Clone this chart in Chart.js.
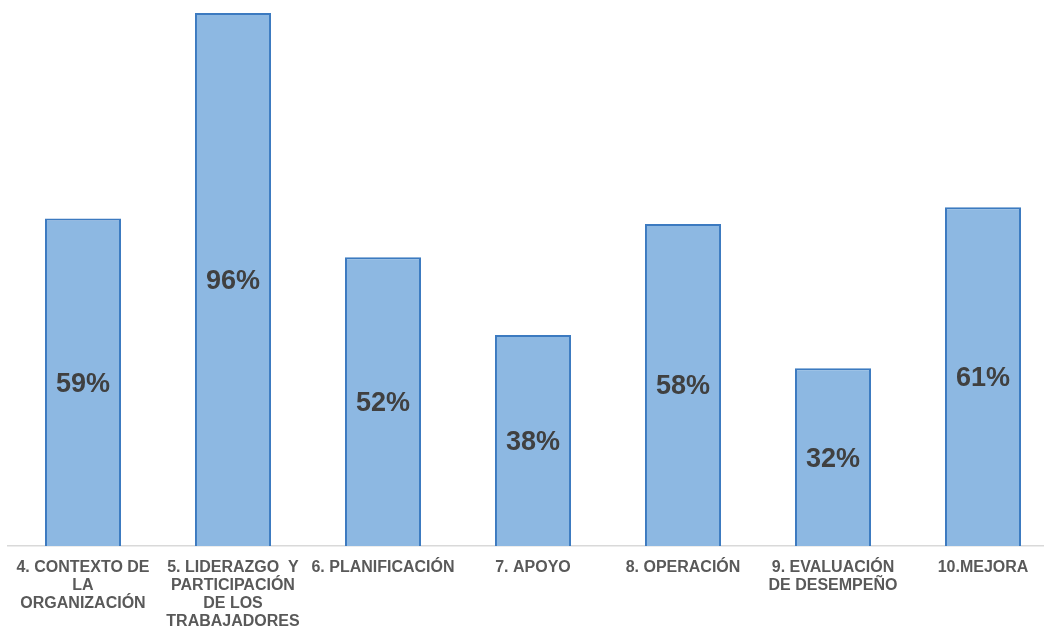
<!DOCTYPE HTML>
<html>
<head>
    <title>Resultados por capítulo</title>
    <meta charset="utf-8">
    <script src="https://cdn.jsdelivr.net/npm/chart.js@4.4.0/dist/chart.umd.min.js"></script>
    <style>
        html, body {
            margin: 0;
            padding: 0;
            background: #fff;
            overflow: hidden;
        }
        .container {
            position: relative;
            width: 1058px;
            height: 629px;
        }
    </style>
</head>
<body>
    <section class="container">
        <canvas id="bar-chart"></canvas>
    </section>
    <script>
        var categories = [
            ["4. CONTEXTO DE", "LA", "ORGANIZACIÓN"],
            ["5. LIDERAZGO  Y", "PARTICIPACIÓN", "DE LOS", "TRABAJADORES"],
            ["6. PLANIFICACIÓN"],
            ["7. APOYO"],
            ["8. OPERACIÓN"],
            ["9. EVALUACIÓN", "DE DESEMPEÑO"],
            ["10.MEJORA"]
        ];
        var values = [59, 96, 52, 38, 58, 32, 61];

        // texto del porcentaje en el centro de cada barra
        var centerLabels = {
            id: 'centerLabels',
            afterDatasetsDraw: function (chart) {
                var ctx = chart.ctx;
                var meta = chart.getDatasetMeta(0);
                ctx.save();
                ctx.font = 'bold 27px "Liberation Sans", Arial, sans-serif';
                ctx.fillStyle = '#404040';
                ctx.textAlign = 'center';
                ctx.textBaseline = 'middle';
                meta.data.forEach(function (bar, i) {
                    var mid = (bar.y + bar.base) / 2;
                    ctx.fillText(values[i] + '%', bar.x, mid + 2);
                });
                ctx.restore();
            }
        };

        var chart = new Chart(document.getElementById('bar-chart'), {
            type: 'bar',
            data: {
                labels: categories,
                datasets: [{
                    data: values,
                    backgroundColor: '#8DB8E2',
                    borderColor: '#3C7AC0',
                    borderWidth: 2,
                    categoryPercentage: 1,
                    barPercentage: 0.507
                }]
            },
            options: {
                responsive: true,
                maintainAspectRatio: false,
                animation: false,
                layout: {
                    padding: { top: 13, left: 8, right: 0, bottom: 0 }
                },
                plugins: {
                    legend: { display: false },
                    tooltip: { enabled: false }
                },
                scales: {
                    x: {
                        afterFit: function (scale) { scale.height = 83; },
                        grid: { display: false },
                        border: { display: true, color: '#D9D9D9', width: 1.5 },
                        ticks: {
                            color: '#595959',
                            font: { family: '"Liberation Sans", Arial, sans-serif', size: 16, weight: 'bold', lineHeight: 1.125 },
                            maxRotation: 0,
                            autoSkip: false,
                            padding: 5
                        }
                    },
                    y: {
                        display: false,
                        min: 0,
                        max: 96
                    }
                }
            },
            plugins: [centerLabels]
        });
    </script>
</body>
</html>
